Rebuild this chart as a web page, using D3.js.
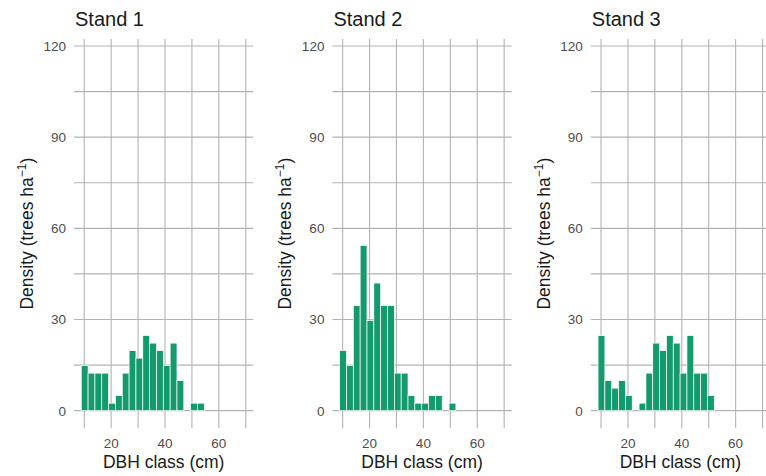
<!DOCTYPE html>
<html>
<head>
<meta charset="utf-8">
<script src="https://cdn.jsdelivr.net/npm/d3@7"></script>
<style>
  html, body { margin: 0; padding: 0; background: #ffffff; }
  svg text { font-family: "Liberation Sans", Arial, sans-serif; }
</style>
</head>
<body>
<svg id="chart" width="766" height="476"></svg>
<script>
// DBH classes are 1-inch classes expressed in cm (class midpoints)
const classMids = [10.16, 12.70, 15.24, 17.78, 20.32, 22.86, 25.40, 27.94, 30.48,
                   33.02, 35.56, 38.10, 40.64, 43.18, 45.72, 48.26, 50.80, 53.34];
const classWidth = 2.54;

// Stand densities per DBH class (trees per hectare)
const stand1 = [14.82, 12.35, 12.35, 12.35, 2.47, 4.94, 12.35, 19.76, 17.29,
                24.70, 22.23, 19.76, 14.82, 22.23, 9.88, 0, 2.47, 2.47];
const stand2 = [19.76, 14.82, 34.58, 54.34, 29.64, 41.99, 34.58, 34.58, 12.35,
                12.35, 4.94, 2.47, 2.47, 4.94, 4.94, 0, 2.47];
const stand3 = [24.70, 9.88, 7.41, 9.88, 4.94, 0, 2.47, 12.35, 22.23,
                19.76, 24.70, 22.23, 12.35, 24.70, 12.35, 12.35, 4.94];

const standNames = ["Stand 1", "Stand 2", "Stand 3"];
const standValues = [stand1, stand2, stand3];

// Axis breaks
const xGridTicks = [10, 20, 30, 40, 50, 60, 70];
const xLabelTicks = [20, 40, 60];
const yGridTicks = [0, 15, 30, 45, 60, 75, 90, 105, 120];
const yLabelTicks = [0, 30, 60, 90, 120];

const svg = d3.select("#chart");

const panelLefts = [74, 332.4, 590.8];
const panelTop = 39;
const panelW = 179.3;
const panelH = 389.3;

const x = d3.scaleLinear().domain([6.2, 72.8]).range([0, panelW]);
const y = d3.scaleLinear().domain([-5.8, 122.3]).range([panelH, 0]);

const gridColor = "#b3b3b3";
const tickText = "#4d4d4d";
const barFill = "#139a6d";

standNames.forEach((name, i) => {
  const g = svg.append("g")
    .attr("transform", `translate(${panelLefts[i]},${panelTop})`);

  // grid
  g.selectAll("line.vgrid").data(xGridTicks).join("line")
    .attr("class", "vgrid")
    .attr("x1", d => x(d)).attr("x2", d => x(d))
    .attr("y1", 0).attr("y2", panelH)
    .attr("stroke", gridColor).attr("stroke-width", 1.1);
  g.selectAll("line.hgrid").data(yGridTicks).join("line")
    .attr("class", "hgrid")
    .attr("x1", 0).attr("x2", panelW)
    .attr("y1", d => y(d)).attr("y2", d => y(d))
    .attr("stroke", gridColor).attr("stroke-width", 1.1);

  // bars
  const data = standValues[i].map((v, k) => ({ mid: classMids[k], value: v }))
    .filter(d => d.value > 0);
  g.selectAll("rect.bar").data(data).join("rect")
    .attr("class", "bar")
    .attr("x", d => x(d.mid - classWidth / 2))
    .attr("width", d => x(d.mid + classWidth / 2) - x(d.mid - classWidth / 2))
    .attr("y", d => y(d.value))
    .attr("height", d => y(0) - y(d.value))
    .attr("fill", barFill)
    .attr("stroke", "#ffffff")
    .attr("stroke-width", 0.7);

  // x tick labels
  g.selectAll("text.xt").data(xLabelTicks).join("text")
    .attr("class", "xt")
    .attr("x", d => x(d))
    .attr("y", 448 - panelTop)
    .attr("text-anchor", "middle")
    .attr("font-size", 13.5)
    .attr("fill", tickText)
    .text(d => d);

  // y tick labels
  g.selectAll("text.yt").data(yLabelTicks).join("text")
    .attr("class", "yt")
    .attr("x", -8)
    .attr("y", d => y(d))
    .attr("dy", "0.36em")
    .attr("text-anchor", "end")
    .attr("font-size", 13.5)
    .attr("fill", tickText)
    .text(d => d);

  // panel title
  g.append("text")
    .attr("x", 1)
    .attr("y", 26 - panelTop)
    .attr("font-size", 20)
    .attr("fill", "#1a1a1a")
    .text(name);

  // x axis title
  g.append("text")
    .attr("x", panelW / 2)
    .attr("y", 468 - panelTop)
    .attr("text-anchor", "middle")
    .attr("font-size", 17.5)
    .attr("fill", "#1a1a1a")
    .text("DBH class (cm)");

  // y axis title with superscript
  const yt = g.append("text")
    .attr("transform", `translate(${33 - panelLefts[0]},${panelH / 2}) rotate(-90)`)
    .attr("text-anchor", "middle")
    .attr("font-size", 17.5)
    .attr("fill", "#1a1a1a");
  yt.append("tspan").text("Density (trees ha");
  yt.append("tspan").attr("dy", -7).attr("font-size", 12).text("\u22121");
  yt.append("tspan").attr("dy", 7).text(")");
});
</script>
</body>
</html>
